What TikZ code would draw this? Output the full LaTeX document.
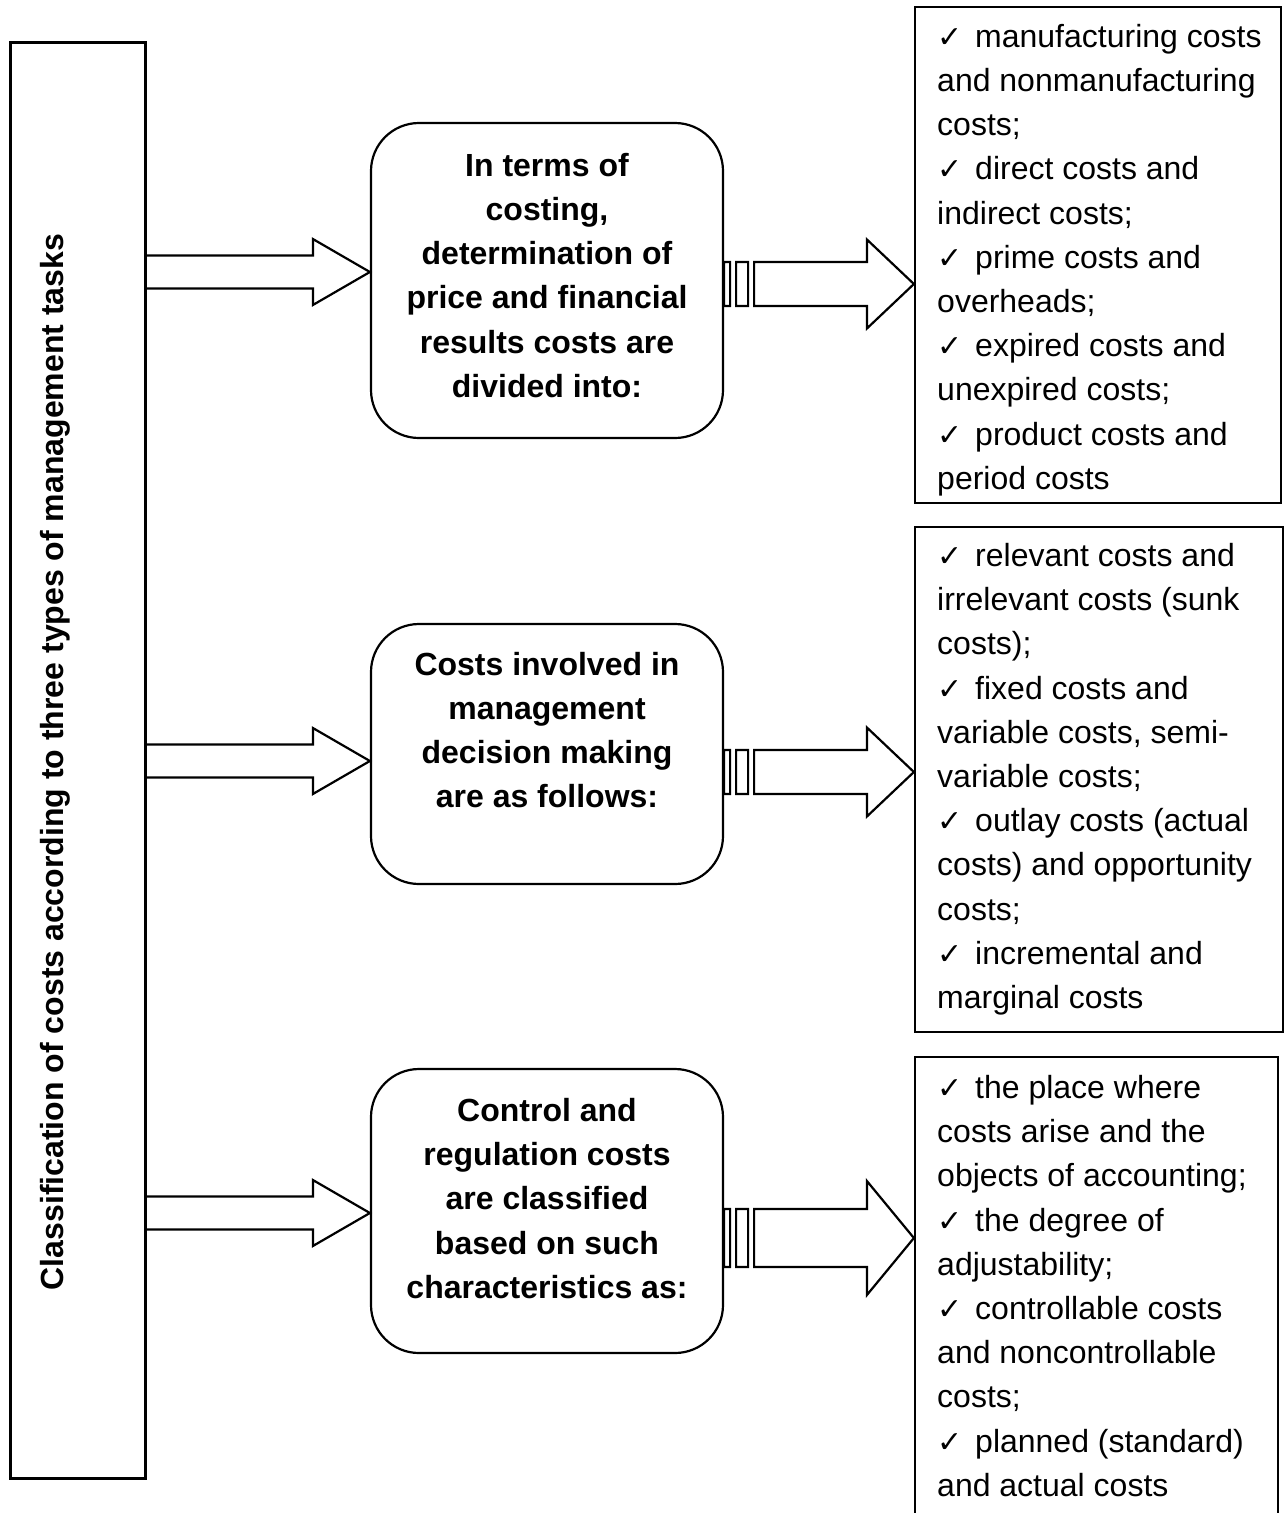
\documentclass[tikz,border=0pt]{standalone}
\usepackage{fontspec}
\setmainfont{Liberation Sans}
\newfontfamily\checkfont{DejaVu Sans}
\usetikzlibrary{calc}

% check mark that opens each list item (smashed so it does not change line heights)
\newcommand\ck{\makebox[38pt][l]{\raisebox{0pt}[0pt][0pt]{\checkfont\fontsize{30}{30}\selectfont ✓}}}

% flat block arrow from a start point to a tip: shaft half-height, head half-height, head length
\newcommand\plainarrow[5]{%
  \draw[blk] let \p1=(#1), \p2=(#2) in
    (\x1,\y1+#3) -- (\x2-#5,\y1+#3) -- (\x2-#5,\y1+#4) -- (\x2,\y1)
    -- (\x2-#5,\y1-#4) -- (\x2-#5,\y1-#3) -- (\x1,\y1-#3);}

% block arrow with two short bars before the shaft
\newcommand\stripedarrow[5]{%
  \draw[blk] let \p1=(#1), \p2=(#2) in
    (\x1,\y1+#3) rectangle (\x1+6pt,\y1-#3)
    (\x1+12pt,\y1+#3) rectangle (\x1+24pt,\y1-#3)
    (\x1+30pt,\y1-#3) -- (\x1+30pt,\y1+#3) -- (\x2-#5,\y1+#3) -- (\x2-#5,\y1+#4)
    -- (\x2,\y1) -- (\x2-#5,\y1-#4) -- (\x2-#5,\y1-#3) -- cycle;}

\tikzset{
  blk/.style={line width=2.2pt, line join=miter},
  framebox/.style={draw, line width=3pt, inner sep=0pt},
  roundbox/.style={draw, line width=2.2pt, rounded corners=48pt, inner sep=0pt,
    minimum width=352pt},
  listbox/.style={draw, line width=2.2pt, inner sep=0pt},
  midtext/.style={anchor=north, align=center, inner sep=0pt,
    font=\bfseries\fontsize{32}{44.2}\selectfont},
  listtext/.style={anchor=north west, align=left, inner sep=0pt,
    font=\fontsize{32}{44.2}\selectfont},
}

\begin{document}
\begin{tikzpicture}[x=1pt,y=1pt]
\clip (0,0) rectangle (1284,-1513);
\fill[white] (0,0) rectangle (1284,-1513);

% left frame with the vertical title
\node[framebox, minimum width=135pt, minimum height=1436pt] (frame) at (77.5,-760) {};
\node[rotate=90, inner sep=0pt, font=\bfseries\fontsize{32}{38}\selectfont] (title) at (55,-762)
  {Classification of costs according to three types of management tasks};

% middle rounded boxes
\node[roundbox, minimum height=315pt] (m1) at (547,-280.5) {};
\node[roundbox, minimum height=260pt] (m2) at (547,-754) {};
\node[roundbox, minimum height=284pt] (m3) at (547,-1211) {};

\node[midtext] (t1) at (547,-153) {In terms of\\costing,\\determination of\\price and financial\\results costs are\\divided into:};
\node[midtext] (t2) at (547,-652) {Costs involved in\\management\\decision making\\are as follows:};
\node[midtext] (t3) at (547,-1098) {Control and\\regulation costs\\are classified\\based on such\\characteristics as:};

% right list boxes
\node[listbox, minimum width=366pt, minimum height=496pt] (r1) at (1098,-255) {};
\node[listbox, minimum width=368pt, minimum height=505pt] (r2) at (1099,-779.5) {};
\node[listbox, minimum width=363pt, minimum height=503pt] (r3) at (1096.5,-1308.5) {};

\node[listtext] (l1) at (937,-24) {%
\ck manufacturing costs\\and nonmanufacturing\\costs;\\
\ck direct costs and\\indirect costs;\\
\ck prime costs and\\overheads;\\
\ck expired costs and\\unexpired costs;\\
\ck product costs and\\period costs};
\node[listtext] (l2) at (937,-543) {%
\ck relevant costs and\\irrelevant costs (sunk\\costs);\\
\ck fixed costs and\\variable costs, semi-\\variable costs;\\
\ck outlay costs (actual\\costs) and opportunity\\costs;\\
\ck incremental and\\marginal costs};
\node[listtext] (l3) at (937,-1075) {%
\ck the place where\\costs arise and the\\objects of accounting;\\
\ck the degree of\\adjustability;\\
\ck controllable costs\\and noncontrollable\\costs;\\
\ck planned (standard)\\and actual costs};

% arrows from the frame to the middle boxes
\coordinate (s1) at (frame.east |- 0,-272);
\coordinate (s2) at (frame.east |- 0,-761);
\coordinate (s3) at (frame.east |- 0,-1213);
\coordinate (e1) at (m1.west |- s1);
\coordinate (e2) at (m2.west |- s2);
\coordinate (e3) at (m3.west |- s3);
\plainarrow{s1}{e1}{16.5pt}{33pt}{57pt}
\plainarrow{s2}{e2}{16.5pt}{33pt}{57pt}
\plainarrow{s3}{e3}{16.5pt}{33pt}{57pt}

% arrows from the middle boxes to the lists
\coordinate (u1) at (m1.east |- 0,-284);
\coordinate (u2) at (m2.east |- 0,-772);
\coordinate (u3) at (m3.east |- 0,-1238);
\coordinate (v1) at (r1.west |- u1);
\coordinate (v2) at (r2.west |- u2);
\coordinate (v3) at (r3.west |- u3);
\stripedarrow{u1}{v1}{22pt}{44.5pt}{47pt}
\stripedarrow{u2}{v2}{22pt}{44.5pt}{47pt}
\stripedarrow{u3}{v3}{29pt}{57pt}{47pt}
\end{tikzpicture}
\end{document}
